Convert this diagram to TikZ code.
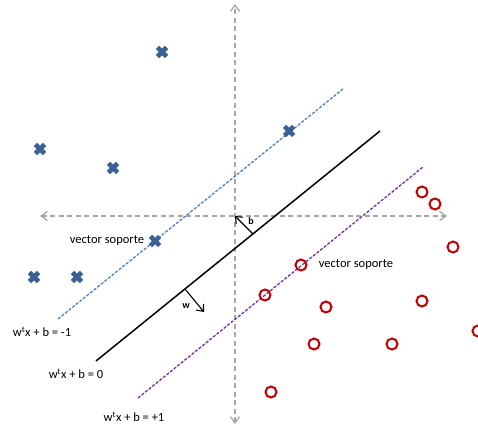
\documentclass[tikz,border=0pt]{standalone}
\usepackage{fontspec}
\setmainfont{Carlito}
\usetikzlibrary{arrows.meta,shapes.misc}
\definecolor{AxisGray}{HTML}{A6A6A6}
\definecolor{MarginBlue}{HTML}{4F81BD}
\definecolor{MarginPurple}{HTML}{7030A0}
\definecolor{ClassBlue}{HTML}{3A6196}
\definecolor{ClassRed}{HTML}{C00000}
\begin{document}
\begin{tikzpicture}[
    x=1pt,y=-1pt,
    axis/.style={{Straight Barb[length=2.2mm,width=3.2mm]}-{Straight Barb[length=2.2mm,width=3.2mm]},
                 draw=AxisGray,line width=1.3pt,dash pattern=on 5pt off 3.5pt},
    margin/.style={line width=1.3pt,dash pattern=on 3pt off 1.6pt},
    hyper/.style={line width=1.5pt,color=black},
    vec/.style={-{Straight Barb[length=2mm,width=3.4mm]},line width=1.1pt},
    xmark/.style={cross out,draw=ClassBlue,line width=4.6pt,minimum size=4.6pt,inner sep=0pt},
    omark/.style={circle,draw=ClassRed,line width=2pt,minimum size=11pt,inner sep=0pt},
    lbl/.style={font=\fontsize{12.5}{15}\selectfont,inner sep=0pt},
    small/.style={font=\fontsize{10}{12}\selectfont\bfseries,inner sep=0pt}
  ]
    \useasboundingbox (0,0) rectangle (478,427);
    % axes
    \coordinate (top) at (235,4);
    \coordinate (bottom) at (235,424);
    \coordinate (left) at (40,216);
    \coordinate (right) at (447,216);
    \coordinate (origin) at (235,216);
    \draw[axis] (bottom) -- (top);
    \draw[axis] (left) -- (right);
    % hyperplane and margins
    \coordinate (neg start) at (58,319);
    \coordinate (neg end) at (343,89);
    \coordinate (mid start) at (96,361);
    \coordinate (mid end) at (380,131);
    \coordinate (pos start) at (138,398);
    \coordinate (pos end) at (423,167);
    \draw[margin,MarginBlue] (neg start) -- (neg end);
    \draw[hyper] (mid start) -- (mid end);
    \draw[margin,MarginPurple] (pos start) -- (pos end);
    % class -1
    \node[xmark] (x1) at (162,52) {};
    \node[xmark] (x2) at (40,149) {};
    \node[xmark] (x3) at (113,168) {};
    \node[xmark] (x4) at (155,241) {};
    \node[xmark] (x5) at (34,277) {};
    \node[xmark] (x6) at (77,277) {};
    \node[xmark] (x7) at (289,131) {};
    % class +1
    \node[omark] (o1) at (422,192) {};
    \node[omark] (o2) at (435,204) {};
    \node[omark] (o3) at (453,247) {};
    \node[omark] (o4) at (301,265) {};
    \node[omark] (o5) at (265,295) {};
    \node[omark] (o6) at (326,307) {};
    \node[omark] (o7) at (422,301) {};
    \node[omark] (o8) at (314,344) {};
    \node[omark] (o9) at (392,344) {};
    \node[omark] (o10) at (478,331) {};
    \node[omark] (o11) at (271,392) {};
    % normal vector and offset
    \coordinate (w base) at (185,289);
    \coordinate (w tip) at (204,312);
    \coordinate (b foot) at (253,234);
    \draw[vec] (w base) -- (w tip);
    \draw[vec,{Straight Barb[length=2mm,width=3.4mm]}-] (origin) -- (b foot);
    \node[small] (wlabel) at (186,306) {w};
    \node[small] (blabel) at (251,221) {b};
    % labels
    \node[lbl] (sv left) at (107,241) {vector soporte};
    \node[lbl] (sv right) at (356,265) {vector soporte};
    \node[lbl] (eq neg) at (42,332) {w\textsuperscript{t}x + b = -1};
    \node[lbl] (eq mid) at (76,374) {w\textsuperscript{t}x + b = 0};
    \node[lbl] (eq pos) at (134,417) {w\textsuperscript{t}x + b = +1};
\end{tikzpicture}
\end{document}
